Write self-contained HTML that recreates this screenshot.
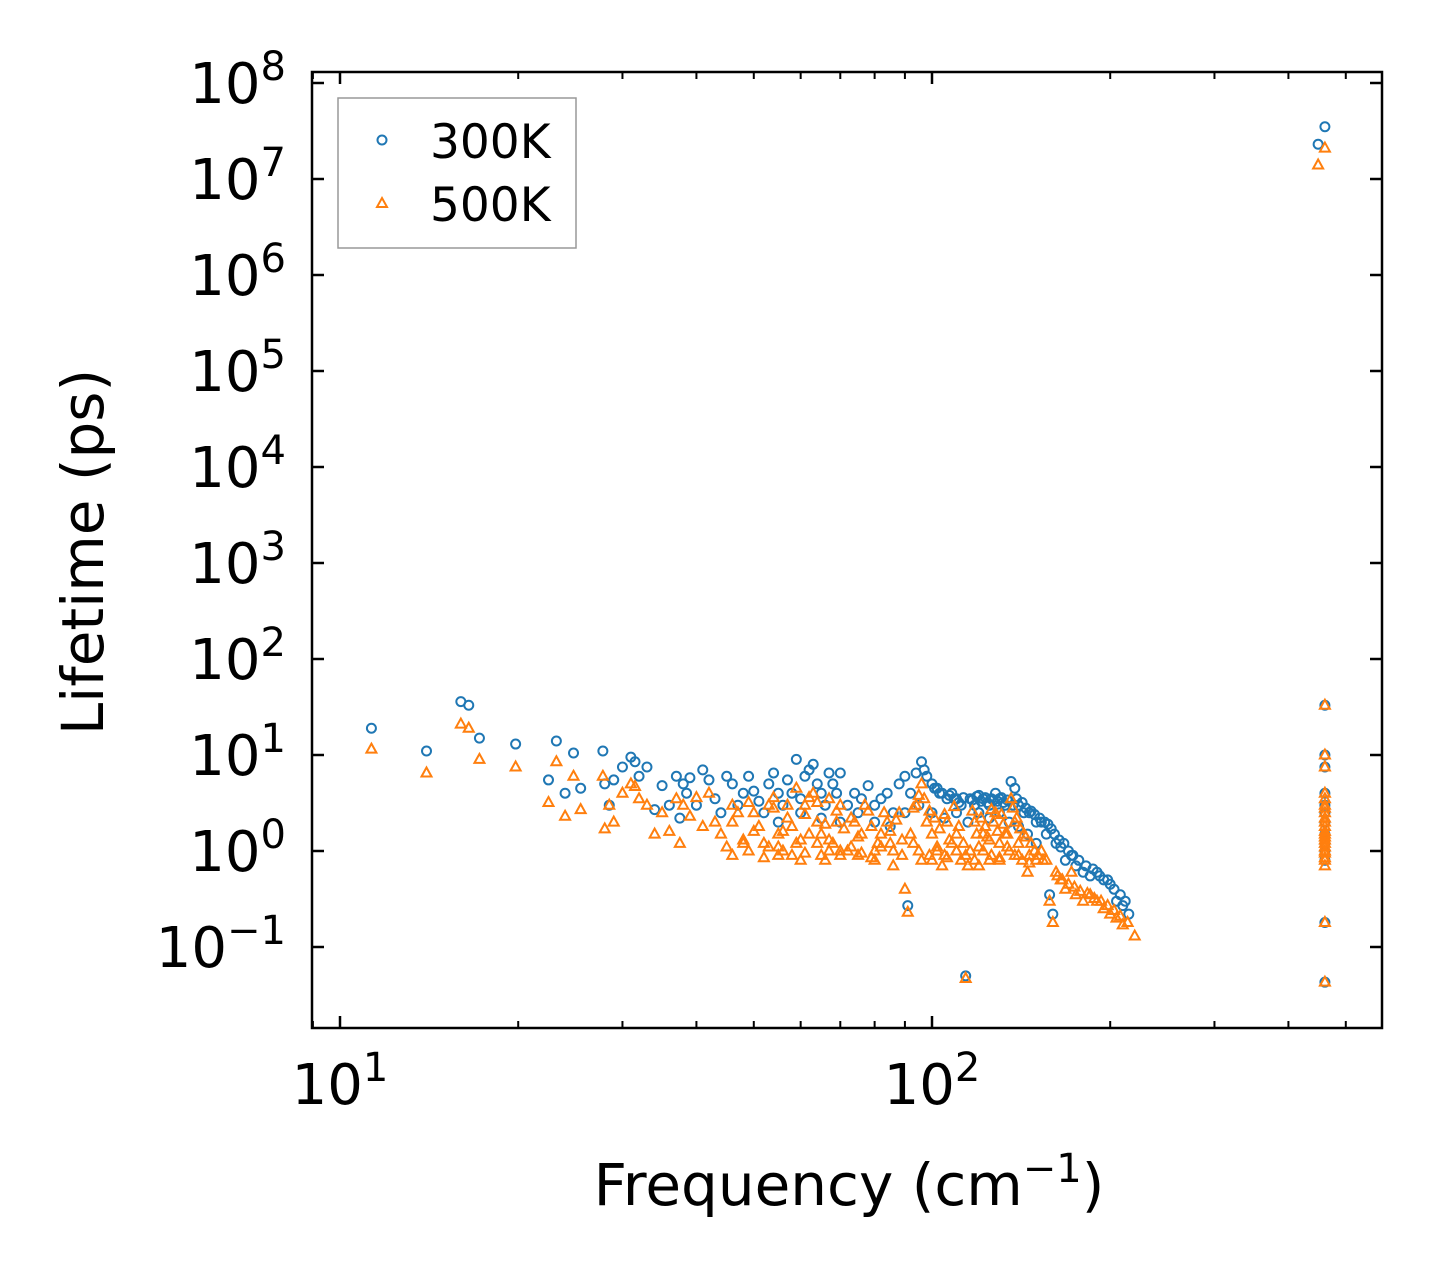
<!DOCTYPE html>
<html><head><meta charset="utf-8"><style>
html,body{margin:0;padding:0;background:#fff}
svg{display:block}
text{font-family:"DejaVu Sans","Liberation Sans",sans-serif;fill:#000}
</style></head><body>
<svg id="chart" width="1442" height="1279" viewBox="0 0 1442 1279" xmlns="http://www.w3.org/2000/svg">
<rect x="0" y="0" width="1442" height="1279" fill="#fff"/>
<g id="marks"></g>
<g id="axes"></g>
<rect x="312" y="72" width="1070" height="956" fill="none" stroke="#000" stroke-width="2.5"/>
<g>
<rect x="338" y="98" width="238" height="150" fill="#fff" stroke="#999" stroke-width="1.5"/>
<circle cx="382" cy="140" r="4.5" fill="none" stroke="#1f77b4" stroke-width="2"/>
<text x="430" y="158" font-size="47">300K</text>
<polygon points="382,198 387,207 377,207" fill="none" stroke="#ff7f0e" stroke-width="2"/>
<text x="430" y="221" font-size="47">500K</text>
</g>
<text x="849" y="1205" font-size="58" text-anchor="middle">Frequency (cm<tspan baseline-shift="super" font-size="40">−1</tspan>)</text>
<text transform="translate(103,552) rotate(-90)" font-size="58" text-anchor="middle">Lifetime (ps)</text>
</svg>
<script>
const xTickDecades = [1, 2];
const yTickDecades = [-1, 0, 1, 2, 3, 4, 5, 6, 7, 8];
const freq300 = [11.3,14,16,16.5,17.2,19.8,22.5,23.2,24,24.8,25.5,27.8,28,28.5,29,30,31,31.5,32,33,34,35,36,37,37.5,38,38.5,39,40,41,42,43,44,45,46,47,48,49,50,51,52,53,54,55,56,57,58,59,60,61,62,63,64,65,66,67,68,69,70,72,74,76,78,80,82,84,86,88,90,91,92,94,96,97,98,100,102,104,106,108,110,112,114,116,118,120,122,125,128,130,133,136,138,140,143,146,150,153,156,158,160,162,165,168,172,175,180,185,190,195,200,205,210,215,
55,60,65,70,75,80,85,90,95,100,105,110,115,120,125,130,135,140,145,150,
101,103,107,109,111,113,117,119,121,123,124,126,127,129,131,132,134,137,139,142,144,147,149,152,155,157,159,161,164,167,170,173,177,182,187,192,198,203,208,212,
449,461,461,461,461,461,461,461,461,461,461,461,461,461,461];
const life300 = [19,11,36,33,15,13,5.5,14,4,10.5,4.5,11,5,3,5.5,7.5,9.5,8.5,6,7.5,2.7,4.8,3,6,2.2,5,4,5.8,3,7,5.5,3.5,2.5,6,5,3,4,6,4.2,3.3,2.5,5,6.5,4,3,5.5,4,9,3.5,6,7,8,5,4,3,6.5,5,4,6.5,3,4,3.5,4.8,3,3.5,4,2.5,5,6,0.27,4,6.5,8.5,7,6,5,4.5,4,3.5,4,3.5,3,0.05,3.5,3,3.8,3.5,3,4,3.5,3,5.3,4.5,3,2.5,2.5,2,2,1.5,0.35,0.22,1.2,1.1,0.8,0.9,0.7,0.6,0.55,0.6,0.5,0.45,0.3,0.27,0.22,
2,2.5,2.2,2,2.5,2,1.8,2.5,3,2.5,2.2,2.5,2,2.5,2.2,2.5,2,1.8,1.5,1.2,
4.5,4,3.8,3.5,3.2,3.6,3.4,3.7,3.3,3.6,3.2,3.5,3.4,3.3,3.6,3.2,3.4,3,3.5,3.2,2.8,2.6,2.4,2.2,2,1.9,1.7,1.5,1.3,1.2,1,0.9,0.8,0.7,0.65,0.55,0.5,0.4,0.35,0.3,
23e6,35e6,33,10,7.5,4,3,2.5,2,1.5,1.2,1,0.8,0.18,0.043];
const freq500 = [11.3,14,16,16.5,17.2,19.8,22.5,23.2,24,24.8,25.5,27.8,28,28.5,29,30,31,31.5,32,33,34,35,36,37,37.5,38,39,40,41,42,43,44,45,46,47,48,49,50,52,53,54,55,56,57,58,59,60,61,62,63,64,65,66,67,68,69,70,72,74,76,78,80,82,84,86,88,90,91,92,94,96,97,98,100,102,104,106,108,110,112,114,116,118,120,122,125,128,130,133,136,138,140,143,146,150,153,156,158,160,162,165,168,172,175,180,185,190,195,200,205,210,220,
55,60,65,70,75,80,85,95,100,105,110,115,120,125,130,135,140,145,
46,48,50,51,53,54,56,57,59,61,62,64,66,67,69,71,73,75,77,79,81,83,85,87,89,93,95,99,101,103,105,107,109,111,113,117,119,121,123,124,126,127,129,131,132,134,137,139,141,144,147,149,151,154,
46,49,52,55,58,61,64,67,70,73,76,79,82,86,89,93,96,99,102,106,110,114,118,122,126,130,134,138,142,146,
163,166,170,174,178,183,188,193,198,203,208,214,
461,461,461,461,461,461,461,461,461,461,
449,461,461,461,461,461,461,461,461,461,461,461,461,461,461,461];
const life500 = [11.5,6.5,21,19,9,7.5,3.2,8.5,2.3,6,2.7,6,1.7,3,2,4,5,4.7,3.5,3,1.5,2.5,1.6,3.5,1.2,3,2.3,3.6,1.8,4,2,1.5,1.1,3,2.5,1.2,3.2,1.6,1.2,3,3.6,1.5,1,2.2,1.8,4.5,1.3,3,3.6,4,2,1.5,0.8,3.5,1.2,2,3,1,2,1.5,2.6,0.8,1.5,2,0.7,2.5,0.4,0.23,1.5,3,5,3.5,2,1.5,1,0.7,2,1.2,1.5,0.8,0.047,1,2,0.7,1.5,0.8,2.5,1.2,1.5,3.5,2,1.2,1.5,0.9,0.8,1,0.8,0.3,0.18,0.6,0.5,0.4,0.6,0.35,0.3,0.35,0.3,0.25,0.22,0.2,0.17,0.13,
0.9,0.8,0.9,1,0.9,1,1.2,1,0.8,0.9,1,0.7,1.1,1.3,0.8,1,0.9,0.6,
2,1.3,2.5,1.8,1.1,2.8,1.6,3,1.2,2.4,1.5,3.2,1.9,1.3,2.6,1.7,2.2,1.4,3,1.8,1.2,2.5,1.6,2.1,1.3,2.8,3.8,2.6,2.2,1.7,2.4,1.3,2.9,1.8,1.2,2.6,1.5,2.2,1.8,1.4,2.7,2,1.6,2.4,1.9,1.5,2.8,2.2,1.7,1.4,1.2,1,0.9,0.8,
0.9,1,0.85,1.1,0.9,0.95,1.2,1,0.9,1.1,0.95,0.85,1.1,1,0.9,1.2,0.8,0.9,1.1,0.85,1,0.9,0.8,1,0.9,0.85,1.1,0.9,0.8,0.75,
0.55,0.5,0.45,0.42,0.38,0.36,0.32,0.3,0.27,0.24,0.21,0.18,
3.5,2.8,2.2,1.8,1.6,1.4,1.3,1.1,0.95,0.85,
14e6,21e6,33,10,7.5,4,3,2.5,2,1.5,1.2,1,0.8,0.7,0.18,0.043];

const NS='http://www.w3.org/2000/svg';
const X0=340, XD=592, Y0=851, YD=96;
function xs(v){return X0+(Math.log10(v)-1)*XD;}
function ys(v){return Y0-Math.log10(v)*YD;}
function mk(tag,attrs,parent){const e=document.createElementNS(NS,tag);for(const k in attrs)e.setAttribute(k,attrs[k]);parent.appendChild(e);return e;}
const marks=document.getElementById('marks'), axes=document.getElementById('axes');
const g3=mk('g',{},marks);


freq300.forEach((f,i)=>{
  const c=mk('circle',{cx:xs(f),cy:ys(life300[i]),r:4.5,fill:'none',stroke:'#1f77b4','stroke-width':2},g3);
  
  
});
const g5=mk('g',{},marks);


freq500.forEach((f,i)=>{
  const x=xs(f),y=ys(life500[i]);
  const p=mk('polygon',{points:`${x},${y-5.5} ${x+5},${y+3.5} ${x-5},${y+3.5}`,fill:'none',stroke:'#ff7f0e','stroke-width':2},g5);
  
  
});
const xMinor=[9,20,30,40,50,60,70,80,90,200,300,400,500];
xMinor.forEach(v=>{const x=xs(v);
  mk('line',{x1:x,x2:x,y1:1028,y2:1021,stroke:'#000','stroke-width':2},axes);
  mk('line',{x1:x,x2:x,y1:72,y2:79,stroke:'#000','stroke-width':2},axes);});
xTickDecades.forEach(d=>{const x=xs(Math.pow(10,d));
  mk('line',{x1:x,x2:x,y1:1028,y2:1016,stroke:'#000','stroke-width':2.5},axes);
  mk('line',{x1:x,x2:x,y1:72,y2:84,stroke:'#000','stroke-width':2.5},axes);
  const t=mk('text',{x:x,y:1104,'font-size':56,'text-anchor':'middle'},axes);
  
  
  t.innerHTML=`10<tspan baseline-shift="super" font-size="40">${d}</tspan>`;});
yTickDecades.forEach(d=>{const y=ys(Math.pow(10,d));
  mk('line',{x1:312,x2:324,y1:y,y2:y,stroke:'#000','stroke-width':2.5},axes);
  mk('line',{x1:1382,x2:1370,y1:y,y2:y,stroke:'#000','stroke-width':2.5},axes);
  const t=mk('text',{x:286,y:y+20,'font-size':56,'text-anchor':'end'},axes);
  
  
  t.innerHTML=`10<tspan baseline-shift="super" font-size="40">${d<0?'−'+(-d):d}</tspan>`;});
</script>
</body></html>
